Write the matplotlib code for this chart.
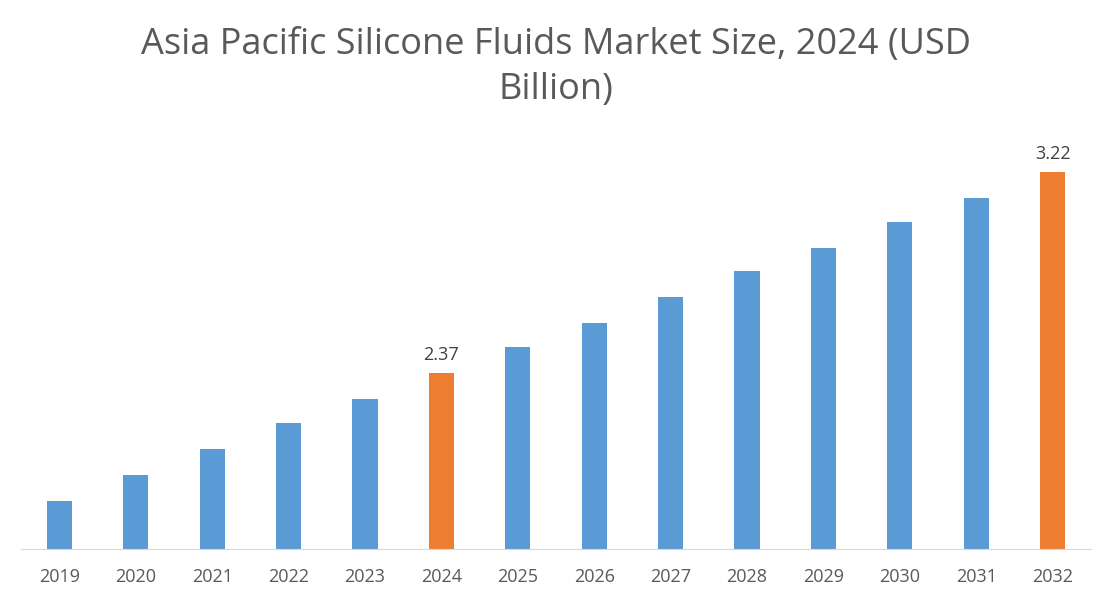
import matplotlib

matplotlib.use("Agg")
import matplotlib.pyplot as plt

YEARS = ["2019", "2020", "2021", "2022", "2023", "2024", "2025",
         "2026", "2027", "2028", "2029", "2030", "2031", "2032"]
VALUES = [1.83, 1.94, 2.05, 2.16, 2.26, 2.37, 2.48,
          2.58, 2.69, 2.80, 2.90, 3.01, 3.11, 3.22]
LABELED = {"2024": "2.37", "2032": "3.22"}

BLUE = "#5B9BD5"
ORANGE = "#ED7D31"

plt.rcParams["font.family"] = "Open Sans"

fig = plt.figure(figsize=(11.12, 6.0), dpi=100)
ax = fig.add_axes([0.019, 0.085, 0.962, 0.699])

colors = [ORANGE if y in LABELED else BLUE for y in YEARS]
ax.bar(range(len(YEARS)), VALUES, width=0.33, color=colors)
for i, (y, v) in enumerate(zip(YEARS, VALUES)):
    if y in LABELED:
        ax.text(i, v + 0.04, LABELED[y], ha="center", va="bottom",
                fontsize=13, color="#404040")

ax.set_xlim(-0.5, len(YEARS) - 0.5)
ax.set_ylim(1.626, 3.4)
ax.set_xticks(range(len(YEARS)))
ax.set_xticklabels(YEARS, fontsize=13, color="#595959")
ax.tick_params(axis="x", length=0, pad=14)
ax.set_yticks([])
for side in ("top", "right", "left"):
    ax.spines[side].set_visible(False)
ax.spines["bottom"].set_color("#D9D9D9")

fig.text(0.5, 0.955, "Asia Pacific Silicone Fluids Market Size, 2024 (USD\nBillion)",
         ha="center", va="top", fontsize=26, color="#595959", linespacing=1.35)

fig.savefig("out.png", dpi=100)
